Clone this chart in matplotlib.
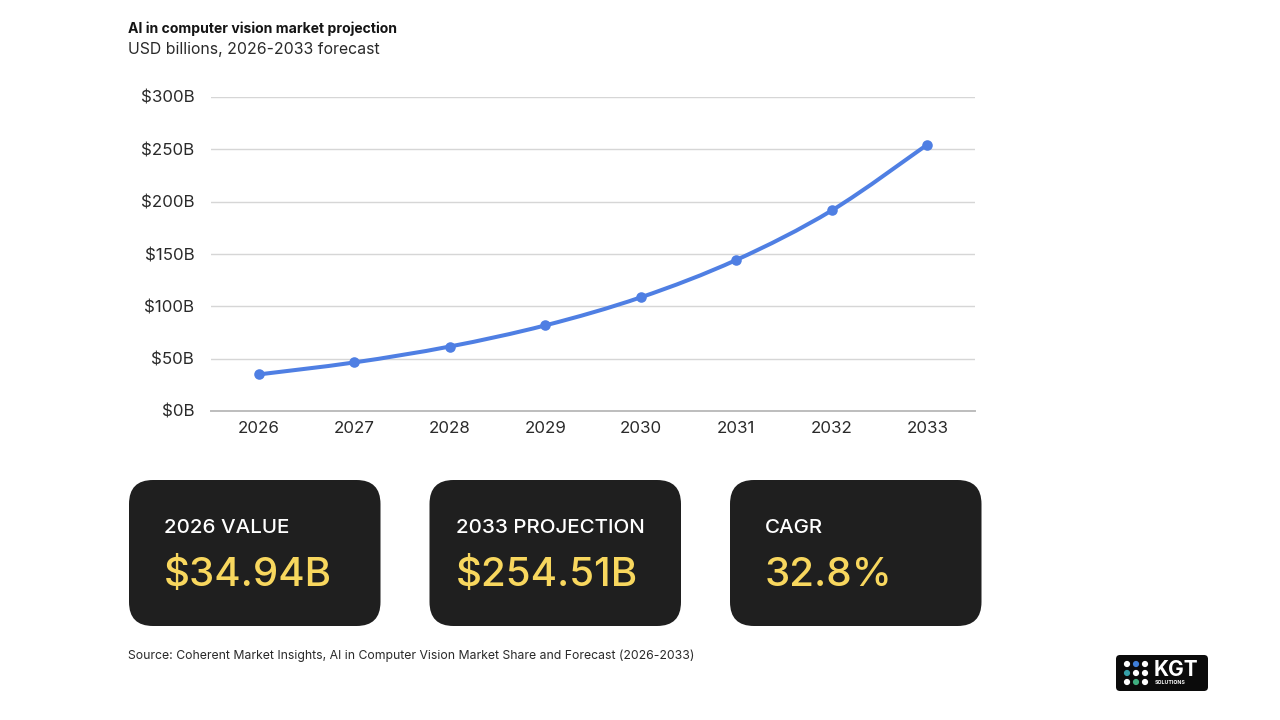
import matplotlib
matplotlib.use("Agg")
import matplotlib.pyplot as plt
from matplotlib.patches import FancyBboxPatch, Circle, PathPatch
from matplotlib.path import Path

plt.rcParams['font.family'] = ['Inter', 'DejaVu Sans']

years = ['2026', '2027', '2028', '2029', '2030', '2031', '2032', '2033']
values = [34.94, 46.4, 61.6, 81.8, 108.6, 144.3, 191.6, 254.51]
y_ticks = [0, 50, 100, 150, 200, 250, 300]
y_labels = ['$0B', '$50B', '$100B', '$150B', '$200B', '$250B', '$300B']
title = 'AI in computer vision market projection'
subtitle = 'USD billions, 2026-2033 forecast'
source = 'Source: Coherent Market Insights, AI in Computer Vision Market Share and Forecast (2026-2033)'
card_labels = ['2026 VALUE', '2033 PROJECTION', 'CAGR']
card_values = ['$34.94B', '$254.51B', '32.8%']

W, H = 1280, 720
BLUE = '#4f7fe3'
INK = '#1f1f1f'

fig = plt.figure(figsize=(W / 100, H / 100), dpi=100, facecolor='#ffffff')

# overlay in pixel coordinates
bg = fig.add_axes([0, 0, 1, 1])
bg.set_xlim(0, W)
bg.set_ylim(H, 0)
bg.axis('off')

# chart
ax = fig.add_axes([211 / W, 1 - 411 / H, (975 - 211) / W, (411 - 97) / H])
ax.patch.set_alpha(0)
xs = list(range(len(years)))
verts = [(xs[0], values[0])]
codes = [Path.MOVETO]
n = len(xs)
for i in range(n - 1):
    p0 = (xs[max(i - 1, 0)], values[max(i - 1, 0)])
    p1 = (xs[i], values[i])
    p2 = (xs[i + 1], values[i + 1])
    p3 = (xs[min(i + 2, n - 1)], values[min(i + 2, n - 1)])
    c1 = (p1[0] + (p2[0] - p0[0]) / 6, p1[1] + (p2[1] - p0[1]) / 6)
    c2 = (p2[0] - (p3[0] - p1[0]) / 6, p2[1] - (p3[1] - p1[1]) / 6)
    verts += [c1, c2, p2]
    codes += [Path.CURVE4] * 3
ax.add_patch(PathPatch(Path(verts, codes), fill=False, edgecolor=BLUE, lw=2.9, zorder=3, capstyle='round'))
ax.plot(xs, values, 'o', color=BLUE, ms=7.6, mew=0, zorder=4, clip_on=False)
ax.set_xlim(-0.5, 7.5)
ax.set_ylim(0, 300)
ax.set_xticks(xs, years)
ax.set_yticks(y_ticks, y_labels)
ax.grid(axis='y', color='#d6d6d6', lw=1)
ax.set_axisbelow(True)
for s in ['top', 'right', 'left']:
    ax.spines[s].set_visible(False)
ax.spines['bottom'].set_color('#bdbdbd')
ax.spines['bottom'].set_linewidth(1.4)
ax.tick_params(axis='both', length=0, labelsize=12.2, labelcolor='#2a2a2a')
ax.tick_params(axis='x', pad=7)
ax.tick_params(axis='y', pad=12)

# heading
bg.text(128, 29, title, fontsize=10.1, fontweight='bold', color='#151515', va='center')
bg.text(128, 49.5, subtitle, fontsize=11.4, color='#2a2a2a', va='center')

# cards
card_x = [129, 429.5, 730]
label_x = [164, 456, 765]
for cx, lx, lab, val in zip(card_x, label_x, card_labels, card_values):
    bg.add_patch(FancyBboxPatch((cx + 24, 480 + 24), 251.5 - 48, 146 - 48,
                                boxstyle='round,pad=24,rounding_size=24',
                                fc=INK, ec='none'))
    bg.text(lx, 528, lab, fontsize=14.8, color='#ffffff', va='center', fontweight='medium')
    bg.text(lx, 575, val, fontsize=29, color='#f8d75e', va='center', fontweight='medium')

bg.text(128, 655.5, source, fontsize=8.8, color='#2a2a2a', va='center')

# logo
bg.add_patch(FancyBboxPatch((1120, 659), 84, 28, boxstyle='round,pad=4,rounding_size=4', fc='#0b0b0b', ec='none'))
dot_colors = ['#ffffff', '#3f7fd8', '#ffffff', '#35a0a8', '#ffffff', '#ffffff', '#ffffff', '#3fae7f', '#ffffff']
dx = [1127, 1136, 1145]
dy = [664, 673, 682]
k = 0
for y in dy:
    for x in dx:
        bg.add_patch(Circle((x, y), 3.1, fc=dot_colors[k], ec='none'))
        k += 1
bg.text(1154, 669.5, 'KGT', fontsize=15, fontweight='bold', color='#ffffff', va='center')
bg.text(1155, 682.5, 'SOLUTIONS', fontsize=3.8, fontweight='bold', color='#ffffff', va='center')

fig.savefig('out.png', dpi=100, facecolor=fig.get_facecolor())
